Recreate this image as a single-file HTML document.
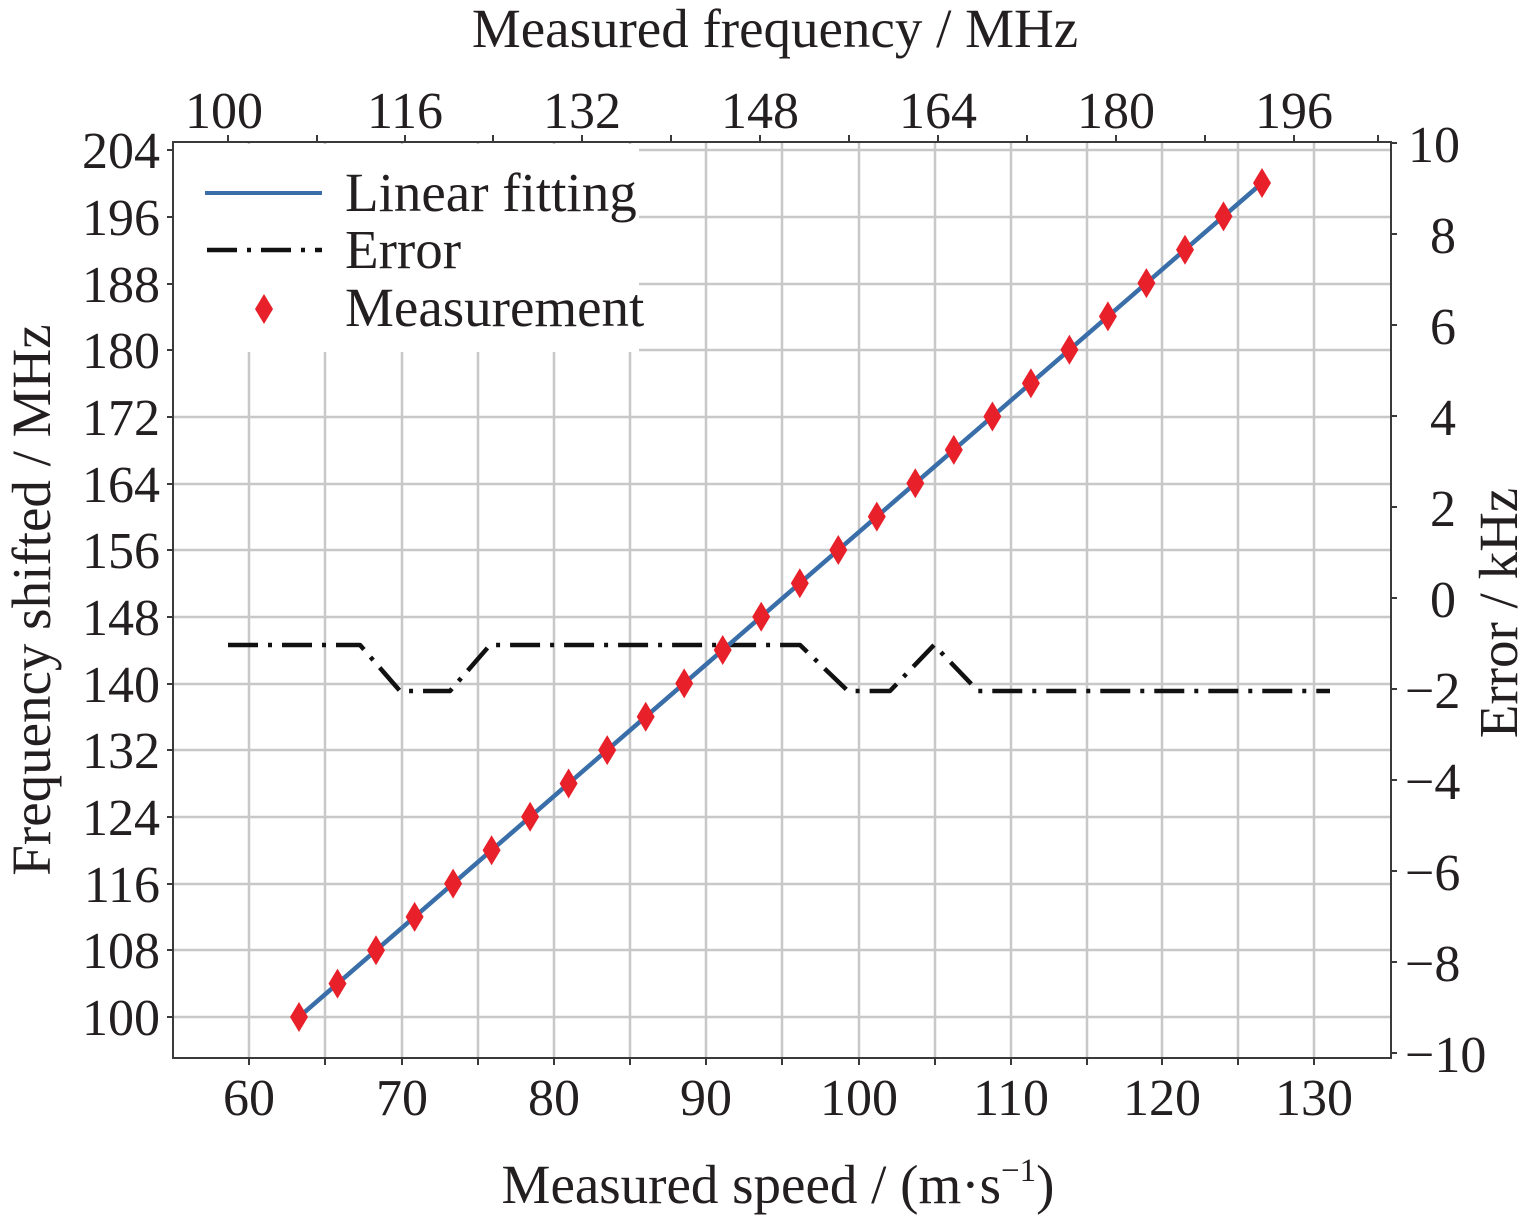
<!DOCTYPE html>
<html><head><meta charset="utf-8"><style>
html,body{margin:0;padding:0;background:#fff}
svg text{font-family:"Liberation Serif",serif;fill:#231f20}
</style></head><body>
<svg width="1535" height="1220" viewBox="0 0 1535 1220" xmlns="http://www.w3.org/2000/svg">
<defs><path id="d" d="M0 -15L9 0L0 15L-9 0Z" fill="#e8202a"/></defs>
<g stroke="#c8c8c8" stroke-width="2.5" fill="none">
<path d="M249 143V1058M325 143V1058M402 143V1058M478 143V1058M554 143V1058M630 143V1058M706 143V1058M782 143V1058M859 143V1058M935 143V1058M1011 143V1058M1087 143V1058M1162 143V1058M1238 143V1058M1314 143V1058"/>
<path d="M173 150H1391M173 217H1391M173 284H1391M173 350H1391M173 417H1391M173 484H1391M173 550H1391M173 617H1391M173 684H1391M173 750H1391M173 817H1391M173 884H1391M173 950H1391M173 1017H1391"/>
</g>
<rect x="174" y="144" width="465" height="208" fill="#fff"/>
<g stroke="#3a3a3a" stroke-width="2" fill="none">
<rect x="173" y="142" width="1218" height="916"/>
<path d="M167 150H173M167 217H173M167 284H173M167 350H173M167 417H173M167 484H173M167 550H173M167 617H173M167 684H173M167 750H173M167 817H173M167 884H173M167 950H173M167 1017H173"/>
<path d="M249 1058v7M325 1058v7M402 1058v7M478 1058v7M554 1058v7M630 1058v7M706 1058v7M782 1058v7M859 1058v7M935 1058v7M1011 1058v7M1087 1058v7M1162 1058v7M1238 1058v7M1314 1058v7"/>
<path d="M228 142v-7M317 142v-7M405 142v-7M493 142v-7M582 142v-7M671 142v-7M760 142v-7M849 142v-7M938 142v-7M1027 142v-7M1116 142v-7M1205 142v-7M1294 142v-7M1378 142v-7"/>
<path d="M1391 143h6M1391 234h6M1391 325h6M1391 416h6M1391 507h6M1391 598h6M1391 689h6M1391 780h6M1391 871h6M1391 962h6M1391 1053h6"/>
</g>
<polyline points="228,645 360,645 400,691 450,691 490,645 800,645 848,691 890,691 934,645 978,691 1330,691" fill="none" stroke="#111" stroke-width="4.5" stroke-dasharray="30,10,4,10" stroke-linejoin="round"/>
<line x1="299" y1="1017" x2="1262" y2="183" stroke="#3a6ea8" stroke-width="4.5"/>
<use href="#d" x="299" y="1017"/><use href="#d" x="337.5" y="983.6"/><use href="#d" x="376" y="950.3"/><use href="#d" x="414.6" y="916.9"/><use href="#d" x="453.1" y="883.6"/><use href="#d" x="491.6" y="850.2"/><use href="#d" x="530.1" y="816.8"/><use href="#d" x="568.6" y="783.5"/><use href="#d" x="607.2" y="750.1"/><use href="#d" x="645.7" y="716.8"/><use href="#d" x="684.2" y="683.4"/><use href="#d" x="722.7" y="650"/><use href="#d" x="761.2" y="616.7"/><use href="#d" x="799.8" y="583.3"/><use href="#d" x="838.3" y="550"/><use href="#d" x="876.8" y="516.6"/><use href="#d" x="915.3" y="483.2"/><use href="#d" x="953.8" y="449.9"/><use href="#d" x="992.4" y="416.5"/><use href="#d" x="1030.9" y="383.2"/><use href="#d" x="1069.4" y="349.8"/><use href="#d" x="1107.9" y="316.4"/><use href="#d" x="1146.4" y="283.1"/><use href="#d" x="1185" y="249.7"/><use href="#d" x="1223.5" y="216.4"/><use href="#d" x="1262" y="183"/>
<line x1="205" y1="193" x2="322" y2="193" stroke="#3a6ea8" stroke-width="4"/>
<line x1="207" y1="250" x2="322" y2="250" stroke="#111" stroke-width="4.5" stroke-dasharray="30,10,4,10"/>
<use href="#d" x="264" y="309"/>
<g font-size="55">
<text x="345" y="211">Linear fitting</text>
<text x="345" y="268">Error</text>
<text x="345" y="326">Measurement</text>
</g>
<g font-size="52" text-anchor="end">
<text x="160" y="168">204</text><text x="160" y="235">196</text><text x="160" y="302">188</text><text x="160" y="368">180</text><text x="160" y="435">172</text><text x="160" y="502">164</text><text x="160" y="568">156</text><text x="160" y="635">148</text><text x="160" y="702">140</text><text x="160" y="768">132</text><text x="160" y="835">124</text><text x="160" y="902">116</text><text x="160" y="968">108</text><text x="160" y="1035">100</text>
</g>
<g font-size="52" text-anchor="middle">
<text x="249" y="1115">60</text><text x="402" y="1115">70</text><text x="554" y="1115">80</text><text x="706" y="1115">90</text><text x="859" y="1115">100</text><text x="1011" y="1115">110</text><text x="1162" y="1115">120</text><text x="1314" y="1115">130</text>
<text x="224" y="128">100</text><text x="405" y="128">116</text><text x="582" y="128">132</text><text x="760" y="128">148</text><text x="938" y="128">164</text><text x="1116" y="128">180</text><text x="1294" y="128">196</text>
</g>
<g font-size="52">
<text x="1408" y="162">10</text><text x="1430" y="253">8</text><text x="1430" y="344">6</text><text x="1430" y="435">4</text><text x="1430" y="526">2</text><text x="1430" y="617">0</text><text x="1405" y="708">−2</text><text x="1405" y="799">−4</text><text x="1405" y="890">−6</text><text x="1405" y="981">−8</text><text x="1405" y="1072">−10</text>
</g>
<text x="775" y="47" font-size="55" text-anchor="middle">Measured frequency / MHz</text>
<text x="778" y="1203" font-size="55" text-anchor="middle">Measured speed / (m·s<tspan font-size="33" dy="-22">−1</tspan><tspan dy="22">)</tspan></text>
<text transform="translate(50,600) rotate(-90)" font-size="55" text-anchor="middle">Frequency shifted / MHz</text>
<text transform="translate(1517,613) rotate(-90)" font-size="55" text-anchor="middle">Error / kHz</text>
</svg>
</body></html>
